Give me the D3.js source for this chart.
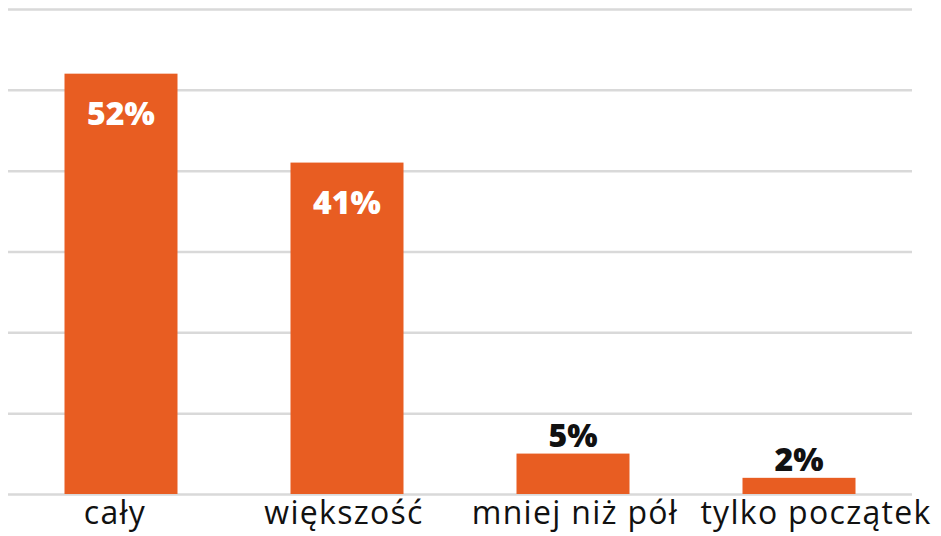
<!DOCTYPE html>
<html>
<head>
<meta charset="utf-8">
<script src="https://cdn.jsdelivr.net/npm/d3@7"></script>
<style>
  html, body { margin: 0; padding: 0; background: #fff; }
  svg { display: block; }
  .grid line { stroke: #d9d9d9; stroke-width: 2.5; }
  .grid path { display: none; }
  .grid text { display: none; }
  .cat { font-family: "Open Sans", sans-serif; font-size: 32px; font-weight: 400; fill: #111; letter-spacing: 1.3px; }
  .val { font-family: "Open Sans", sans-serif; font-size: 32px; font-weight: 800; }
</style>
</head>
<body>
<svg id="chart" width="941" height="536"></svg>
<script>
const categories = ['cały', 'większość', 'mniej niż pół', 'tylko początek'];
const values = [52, 41, 5, 2];
const yTicks = [0, 10, 20, 30, 40, 50, 60];

const width = 941;
const height = 536;
const margin = { left: 8, right: 29, top: 9, bottom: 42 };
const innerWidth = width - margin.left - margin.right;
const innerHeight = height - margin.top - margin.bottom;

const svg = d3.select('#chart');
const g = svg.append('g').attr('transform', `translate(${margin.left}, ${margin.top})`);

const xScale = d3.scaleBand()
  .domain(categories)
  .range([0, innerWidth])
  .paddingInner(0.5)
  .paddingOuter(0.25);

const yScale = d3.scaleLinear()
  .domain([0, 60])
  .range([innerHeight, 0]);

g.append('g')
  .attr('class', 'grid')
  .call(d3.axisLeft(yScale).tickValues(yTicks).tickSize(-innerWidth).tickFormat(''));

const data = categories.map((c, i) => ({ cat: c, value: values[i] }));

g.selectAll('rect.bar')
  .data(data)
  .enter()
  .append('rect')
  .attr('class', 'bar')
  .attr('x', d => xScale(d.cat))
  .attr('y', d => yScale(d.value))
  .attr('width', xScale.bandwidth())
  .attr('height', d => innerHeight - yScale(d.value))
  .attr('fill', '#e85d22');

// values: inside big bars, above small ones
g.selectAll('text.val')
  .data(data)
  .enter()
  .append('text')
  .attr('class', 'val')
  .attr('text-anchor', 'middle')
  .attr('x', d => xScale(d.cat) + xScale.bandwidth() / 2)
  .attr('y', d => d.value > 10 ? yScale(d.value) + 51 : yScale(d.value) - 7)
  .attr('fill', d => d.value > 10 ? '#fff' : '#111')
  .text(d => d.value + '%');

// last label sits a bit right of its bar in the original
const labelShift = [-6, -3, 2, 17];
g.selectAll('text.cat')
  .data(data)
  .enter()
  .append('text')
  .attr('class', 'cat')
  .attr('text-anchor', 'middle')
  .attr('x', (d, i) => xScale(d.cat) + xScale.bandwidth() / 2 + labelShift[i])
  .attr('y', innerHeight + 30)
  .text(d => d.cat);
</script>
</body>
</html>
